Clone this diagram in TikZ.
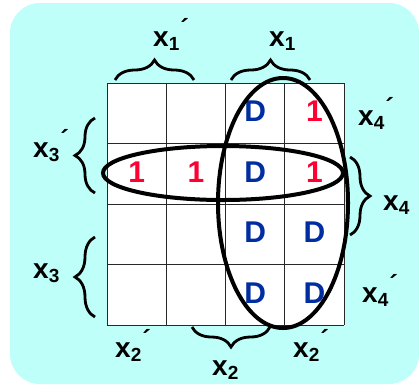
\documentclass[tikz,border=0pt]{standalone}
\usepackage{fontspec}
\setmainfont{Liberation Sans}
\usetikzlibrary{decorations.pathreplacing}
\definecolor{kbg}{RGB}{191,255,250}
\definecolor{kred}{RGB}{255,0,51}
\definecolor{kblue}{RGB}{0,45,160}
\definecolor{kgrid}{RGB}{40,40,40}
\tikzset{
  dval/.style={font=\fontsize{30}{30}\selectfont\bfseries, text=kblue},
  oneval/.style={font=\fontsize{30}{30}\selectfont\bfseries, text=kred},
  vlab/.style={font=\fontsize{28}{28}\selectfont\bfseries, anchor=base west, inner sep=0pt},
  brc/.style={decorate, decoration={brace, amplitude=20pt}, line width=2.8pt},
  loopl/.style={line width=4pt},
}
\newcommand{\kv}[2]{x\textsubscript{\fontsize{19}{19}\selectfont #1}\kern0.5pt\raisebox{0.3em}{\fontsize{26}{26}\selectfont #2}}
\begin{document}
\begin{tikzpicture}[x=1pt, y=-1pt]
  \useasboundingbox (0,0) rectangle (419,384);
  \fill[kbg, rounded corners=30pt] (10,3) rectangle (419,384);
  % grid
  \fill[white] (107,83) rectangle (344,325);
  \foreach \i in {0,...,4} {
    \draw[kgrid, line width=1pt] (107+59.25*\i,83) -- (107+59.25*\i,325);
    \draw[kgrid, line width=1pt] (107,83+60.5*\i) -- (344,83+60.5*\i);
  }
  % cell values
  \foreach \r/\c/\v in {1/3/D, 2/3/D, 3/3/D, 3/4/D, 4/3/D, 4/4/D}
    \node[dval] (c-\r-\c) at (107+59.25*\c-29.6, 83+60.5*\r-32) {\v};
  \foreach \r/\c in {1/4, 2/1, 2/2, 2/4}
    \node[oneval] (c-\r-\c) at (107+59.25*\c-29.6, 83+60.5*\r-32) {1};
  % loops
  \draw[loopl] (223,173) ellipse [x radius=120, y radius=27];
  \draw[loopl] (283,203) ellipse [x radius=65, y radius=125];
  % braces
  \coordinate (b1a) at (115,80);  \coordinate (b1b) at (194,80);
  \coordinate (b2a) at (231,80);  \coordinate (b2b) at (310,80);
  \coordinate (b3a) at (95,193);  \coordinate (b3b) at (95,118);
  \coordinate (b4a) at (95,317);  \coordinate (b4b) at (95,237);
  \coordinate (b5a) at (350,157); \coordinate (b5b) at (350,235);
  \coordinate (b6a) at (270,327); \coordinate (b6b) at (192,327);
  \draw[brc] (b1a) -- (b1b);
  \draw[brc] (b2a) -- (b2b);
  \draw[brc] (b3a) -- (b3b);
  \draw[brc] (b4a) -- (b4b);
  \draw[brc] (b5a) -- (b5b);
  \draw[brc] (b6a) -- (b6b);
  % variable labels
  \node[vlab] (x1n) at (153,46) {\kv{1}{´}};
  \node[vlab] (x1p) at (269,46) {\kv{1}{}};
  \node[vlab] (x3n) at (33,157) {\kv{3}{´}};
  \node[vlab] (x3p) at (33,278) {\kv{3}{}};
  \node[vlab] (x4n) at (358,125) {\kv{4}{´}};
  \node[vlab] (x4p) at (383,210) {\kv{4}{}};
  \node[vlab] (x4m) at (362,302) {\kv{4}{´}};
  \node[vlab] (x2n) at (115,357) {\kv{2}{´}};
  \node[vlab] (x2m) at (293,357) {\kv{2}{´}};
  \node[vlab] (x2p) at (212,375) {\kv{2}{}};
\end{tikzpicture}
\end{document}
